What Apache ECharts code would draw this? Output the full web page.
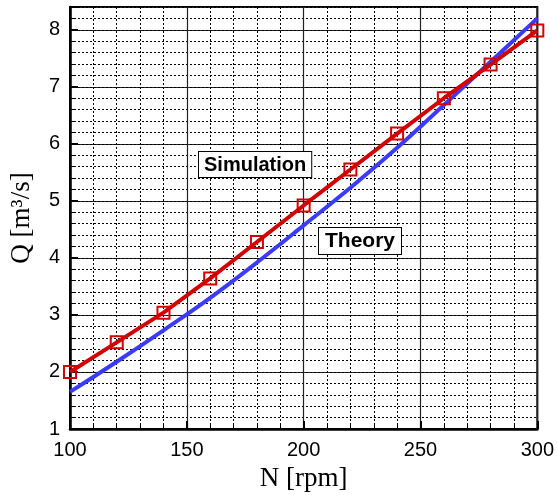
<!DOCTYPE html>
<html>
<head>
<meta charset="utf-8">
<script src="https://cdn.jsdelivr.net/npm/echarts@6/dist/echarts.min.js"></script>
<style>
  html, body { margin: 0; padding: 0; background: #fff; }
  #main { width: 557px; height: 497px; }
</style>
</head>
<body>
<div id="main"></div>
<script>
// rpm values
var rpm = [100, 120, 140, 160, 180, 200, 220, 240, 260, 280, 300];
// simulated flow rate Q [m3/s]
var simQ = [2.0, 2.52, 3.04, 3.64, 4.28, 4.92, 5.55, 6.18, 6.80, 7.39, 7.99];
// theoretical flow rate Q [m3/s]
var theoQ = [1.65, 2.18, 2.73, 3.3, 3.92, 4.57, 5.23, 5.93, 6.68, 7.44, 8.2];

function pairs(xs, ys) {
  return xs.map(function (x, i) { return [x, ys[i]]; });
}

var chart = echarts.init(document.getElementById('main'));

var option = {
  animation: false,
  grid: {
    left: 70, right: 16, top: 7, bottom: 64,
    show: true, borderColor: '#000', borderWidth: 2
  },
  xAxis: {
    type: 'value', min: 100, max: 300, interval: 50,
    name: 'N [rpm]', nameLocation: 'middle', nameGap: 36,
    nameTextStyle: { fontFamily: 'Liberation Serif', fontSize: 27, color: '#000' },
    axisLine: { lineStyle: { color: '#000', width: 2.5 } },
    axisTick: { inside: true, length: 8, lineStyle: { color: '#000', width: 2 } },
    minorTick: { show: true, splitNumber: 5, length: 4, lineStyle: { color: '#000', width: 1 } },
    axisLabel: { fontFamily: 'Liberation Sans', fontSize: 20, color: '#000', margin: 11 },
    splitLine: { show: true, lineStyle: { color: '#222', width: 1.2 } },
    minorSplitLine: { show: true, lineStyle: { color: '#000', width: 1, type: [2, 2] } }
  },
  yAxis: [{
    type: 'value', min: 1, max: 8.4, interval: 1, position: 'left',
    name: 'Q [m³/s]', nameLocation: 'middle', nameGap: 35,
    nameTextStyle: { fontFamily: 'Liberation Serif', fontSize: 27, color: '#000' },
    axisLine: { show: true, lineStyle: { color: '#000', width: 2.5 } },
    axisTick: { show: true, inside: true, length: 8, lineStyle: { color: '#000', width: 2 } },
    axisLabel: {
      fontFamily: 'Liberation Sans', fontSize: 20, color: '#000', margin: 10,
      formatter: function (v) { return Number.isInteger(v) ? String(v) : ''; }
    },
    splitLine: { show: true, lineStyle: { color: '#222', width: 1.2 } }
  }, {
    type: 'value', min: 1, max: 8.4, interval: 0.2, position: 'left',
    axisLine: { show: false },
    axisTick: { show: true, inside: true, length: 4, lineStyle: { color: '#000', width: 1 } },
    axisLabel: { show: false },
    splitLine: { show: true, lineStyle: { color: '#000', width: 1, type: [2, 2] } }
  }],
  series: [{
    name: 'Theory', type: 'line', yAxisIndex: 0,
    data: pairs(rpm, theoQ), smooth: 0.4, showSymbol: false,
    lineStyle: { color: '#3b3bff', width: 4 }, z: 3
  }, {
    name: 'Simulation', type: 'line', yAxisIndex: 0,
    data: pairs(rpm, simQ),
    symbol: 'rect', symbolSize: 12,
    itemStyle: { color: 'rgba(0,0,0,0)', borderColor: '#d40000', borderWidth: 2 },
    lineStyle: { color: '#d40000', width: 4 }, z: 4
  }],
  graphic: [{
    type: 'text', left: 198, top: 151, z: 10,
    style: {
      text: 'Simulation', fontFamily: 'Liberation Sans', fontWeight: 'bold', fontSize: 20,
      fill: '#000', backgroundColor: '#fff', borderColor: '#000', borderWidth: 1,
      padding: [3, 5, 2, 5]
    }
  }, {
    type: 'text', left: 318, top: 227, z: 10,
    style: {
      text: 'Theory', fontFamily: 'Liberation Sans', fontWeight: 'bold', fontSize: 21,
      fill: '#000', backgroundColor: '#fff', borderColor: '#000', borderWidth: 1,
      padding: [3, 6, 2, 6]
    }
  }]
};

chart.setOption(option);
</script>
</body>
</html>
